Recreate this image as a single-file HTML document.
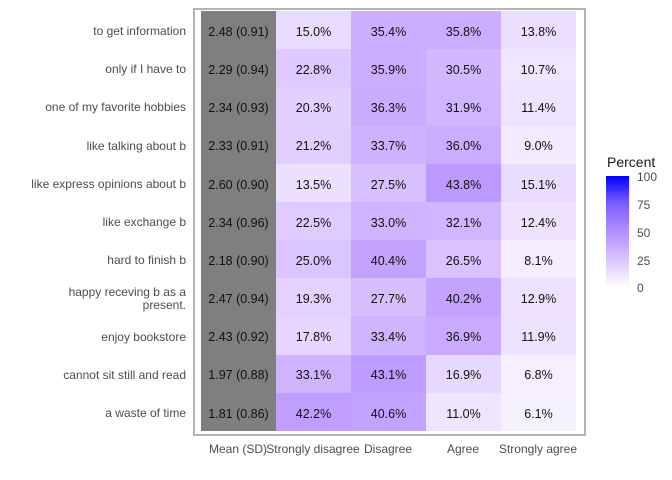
<!DOCTYPE html>
<html><head><meta charset="utf-8"><style>
body{margin:0;width:672px;height:480px;background:#fff;font-family:"Liberation Sans",sans-serif;position:relative;overflow:hidden}
.a{position:absolute}
.yl{position:absolute;right:486px;font-size:12px;color:#4d4d4d;text-align:right;line-height:13px;white-space:nowrap}
.c{position:absolute;width:75px;display:flex;align-items:center;justify-content:center;font-size:12.5px;color:#111;box-sizing:border-box;padding-top:3px}
.xl{position:absolute;top:442px;font-size:12px;color:#4d4d4d;width:100px;text-align:center;margin-left:-50px}
</style></head><body>
<div class="a" style="left:193px;top:8px;width:389px;height:424px;border:2px solid #b3b3b3"></div>
<div id="g"></div>
<div class="a" style="left:607px;top:154px;font-size:14px;color:#1a1a1a">Percent</div>
<div class="a" style="left:606px;top:176px;width:23px;height:111px;background:linear-gradient(to top,#ffffff,#e8dcff 15%,#cbaeff 35%,#bd9bff 44%,#7d5fff 75%,#0000ff)"></div>
<div class="a" style="left:637px;top:170px;font-size:12px;color:#4d4d4d;line-height:14px">100</div>
<div class="a" style="left:637px;top:198px;font-size:12px;color:#4d4d4d">75</div>
<div class="a" style="left:637px;top:226px;font-size:12px;color:#4d4d4d">50</div>
<div class="a" style="left:637px;top:254px;font-size:12px;color:#4d4d4d">25</div>
<div class="a" style="left:637px;top:281px;font-size:12px;color:#4d4d4d">0</div>
<div class="xl" style="left:238px">Mean (SD)</div>
<div class="xl" style="left:313px">Strongly disagree</div>
<div class="xl" style="left:388px">Disagree</div>
<div class="xl" style="left:463px">Agree</div>
<div class="xl" style="left:538px">Strongly agree</div>
<script>
var rows=[["to get information","2.48 (0.91)",15.0,35.4,35.8,13.8],
["only if I have to","2.29 (0.94)",22.8,35.9,30.5,10.7],
["one of my favorite hobbies","2.34 (0.93)",20.3,36.3,31.9,11.4],
["like talking about b","2.33 (0.91)",21.2,33.7,36.0,9.0],
["like express opinions about b","2.60 (0.90)",13.5,27.5,43.8,15.1],
["like exchange b","2.34 (0.96)",22.5,33.0,32.1,12.4],
["hard to finish b","2.18 (0.90)",25.0,40.4,26.5,8.1],
["happy receving b as a<br>present.","2.47 (0.94)",19.3,27.7,40.2,12.9],
["enjoy bookstore","2.43 (0.92)",17.8,33.4,36.9,11.9],
["cannot sit still and read","1.97 (0.88)",33.1,43.1,16.9,6.8],
["a waste of time","1.81 (0.86)",42.2,40.6,11.0,6.1]];
var st=[[0,255,255,255],[15,234,220,255],[35.4,203,174,255],[43.8,189,154,255],[75,125,95,255],[100,0,0,255]];
function col(v){for(var i=1;i<st.length;i++){if(v<=st[i][0]){var a=st[i-1],b=st[i],t=(v-a[0])/(b[0]-a[0]);return "rgb("+[1,2,3].map(function(k){return Math.round(a[k]+(b[k]-a[k])*t)}).join(",")+")";}}}
var h="",rh=420/11;
rows.forEach(function(r,i){var top=11+i*rh;
h+='<div class="yl" style="top:'+(top+rh/2+1.5-(r[0].indexOf("<br>")>0?13:6.5))+'px">'+r[0]+'</div>';
h+='<div class="c" style="left:201px;top:'+top+'px;height:'+(rh+0.5)+'px;background:#7f7f7f">'+r[1]+'</div>';
for(var j=0;j<4;j++){h+='<div class="c" style="left:'+(276+75*j)+'px;top:'+top+'px;height:'+(rh+0.5)+'px;background:'+col(r[2+j])+'">'+r[2+j].toFixed(1)+'%</div>';}
});
document.getElementById("g").innerHTML=h;
</script>
</body></html>
